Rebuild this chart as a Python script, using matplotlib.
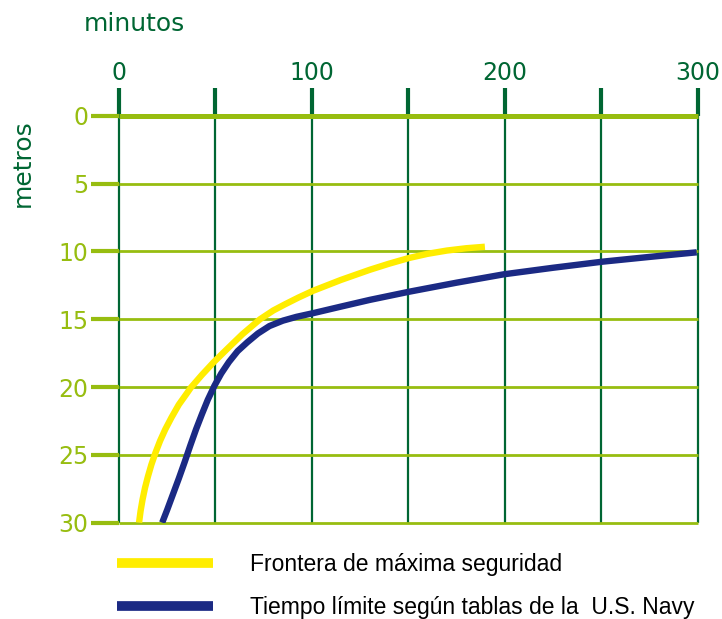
import matplotlib
matplotlib.use('Agg')
import matplotlib.pyplot as plt

# Datos (minutos, metros)
seg_min = [10.4, 11.2, 12.2, 13.5, 15.0, 16.8, 18.9, 21.3, 24.0, 27.2, 31.0, 35.5, 37.2,
           43.0, 49.2, 56.0, 64.0, 73.1, 80.0, 86.0, 93.0, 100.6, 115.0, 130.0, 140.0,
           150.3, 160.0, 170.0, 180.0, 189.7]
seg_prof = [30.0, 29.14, 28.31, 27.43, 26.6, 25.72, 24.85, 23.97, 23.12, 22.25, 21.3, 20.4,
            20.05, 19.1, 18.15, 17.2, 16.1, 15.0, 14.35, 13.9, 13.4, 12.9, 12.1, 11.35,
            10.9, 10.48, 10.17, 9.93, 9.76, 9.65]

navy_min = [22.4, 25.0, 28.0, 31.0, 34.0, 37.0, 40.0, 43.0, 46.0, 49.5, 53.0, 57.0, 61.5,
            66.5, 72.0, 78.0, 85.0, 92.0, 100.6, 114.6, 130.0, 150.3, 175.0, 199.6, 225.0,
            250.7, 275.0, 299.5]
navy_prof = [30.0, 29.05, 27.9, 26.75, 25.55, 24.3, 23.1, 22.0, 20.95, 19.9, 19.0, 18.15,
             17.35, 16.7, 16.05, 15.5, 15.1, 14.82, 14.55, 14.08, 13.57, 12.97, 12.3, 11.68,
             11.2, 10.75, 10.4, 10.06]

x_ticks = [0, 50, 100, 150, 200, 250, 300]
x_labels = ['0', '', '100', '', '200', '', '300']
y_ticks = [0, 5, 10, 15, 20, 25, 30]

verde_osc = '#006633'
verde_lima = '#97BD10'
amarillo = '#FFED00'
azul = '#1B2A84'

fig = plt.figure(figsize=(7.22, 6.19), dpi=100)
ax = fig.add_axes([0.1648, 0.1557, 0.8015, 0.6570])

ax.set_xlim(0, 300)
ax.set_ylim(30, 0)

# rejilla
ax.vlines(x_ticks, 0, 30, colors=verde_osc, lw=1.6, clip_on=False, zorder=1)
ax.hlines(y_ticks[1:], 0, 300, colors=verde_lima, lw=2.0, clip_on=False, zorder=1)
ax.hlines([0], 0, 300, colors=verde_lima, lw=3.6, clip_on=False, zorder=2)

ax.plot(seg_min, seg_prof, color=amarillo, lw=4.6, solid_capstyle='butt',
        solid_joinstyle='round', label='Frontera de máxima seguridad', zorder=3)
ax.plot(navy_min, navy_prof, color=azul, lw=4.6, solid_capstyle='butt',
        solid_joinstyle='round', label='Tiempo límite según tablas de la  U.S. Navy', zorder=4)

for s in ax.spines.values():
    s.set_visible(False)

ax.xaxis.tick_top()
ax.set_xticks(x_ticks)
ax.set_xticklabels(x_labels)
ax.set_yticks(y_ticks)
ax.tick_params(axis='x', length=20, width=3, color=verde_osc, labelcolor=verde_osc,
               labelsize=17, pad=2)
ax.tick_params(axis='y', length=20, width=3, color=verde_lima, labelcolor=verde_lima,
               labelsize=17, pad=2)

fig.text(0.186, 0.962, 'minutos', color=verde_osc, fontsize=18, ha='center', va='center')
fig.text(0.031, 0.737, 'metros', color=verde_osc, fontsize=18, ha='center', va='center',
         rotation=90)

leg = ax.legend(loc='upper left', bbox_to_anchor=(0.162, 0.106), bbox_transform=fig.transFigure,
                frameon=False, handlelength=4.2, handletextpad=1.62, labelspacing=0.85,
                borderpad=0, borderaxespad=0,
                prop={'family': 'Liberation Sans', 'size': 16.5})
for h in leg.get_lines():
    h.set_linewidth(7)

plt.savefig('out.png', dpi=100)
